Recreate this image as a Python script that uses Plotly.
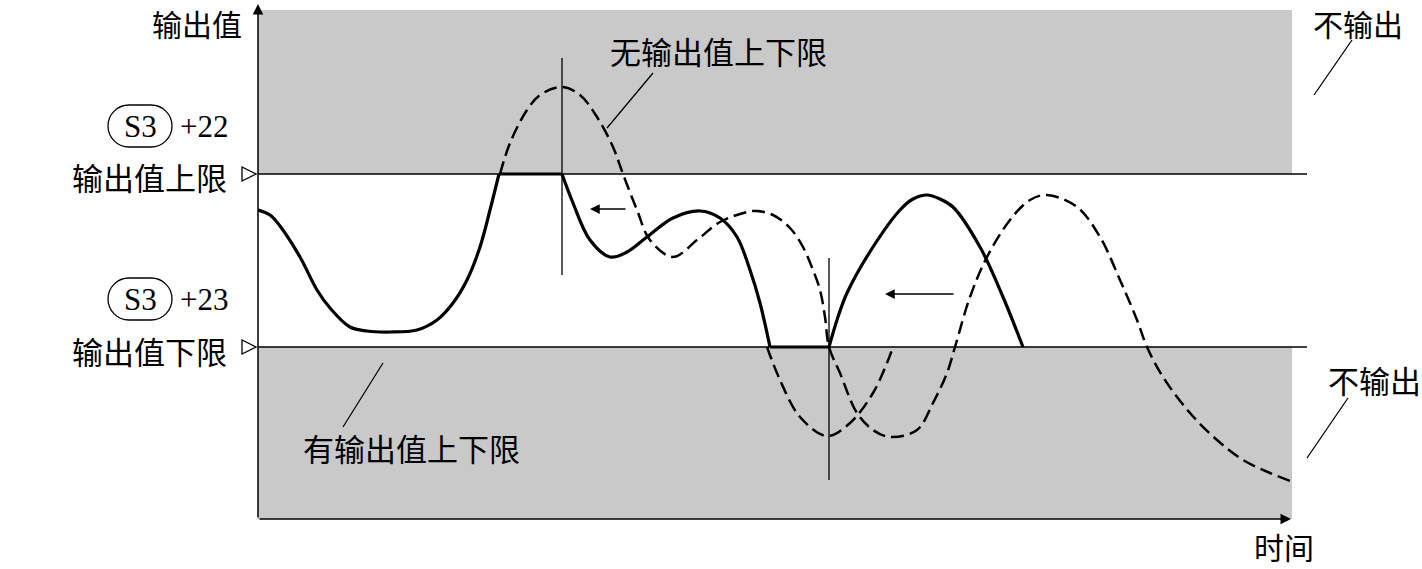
import plotly.graph_objects as go

# ---------------- data (time units, value units: lower limit = 0, upper limit = 173) -------------
TIME_END = 1034
UPPER_LIMIT = 173
LOWER_LIMIT = 0
VALUE_TOP = 337
VALUE_BOTTOM = -172

# output with limits (solid)
solid_a_t = [0, 12, 22, 42, 59, 72, 92, 109, 132, 159, 179, 195, 209, 222, 232, 241]
solid_a_v = [137, 132, 121, 90, 57, 39, 20, 16, 15, 17, 27, 44, 67, 100, 137, 173]
hold_upper_t = [241, 304]
solid_b_t = [304, 315, 332, 352, 369, 389, 415, 442, 462, 479, 492, 502, 512]
solid_b_v = [173, 144, 107, 90, 95, 110, 129, 136, 129, 110, 77, 44, 0]
hold_lower_t = [512, 571]
solid_c_t = [571, 579, 589, 615, 642, 655, 669, 682, 695, 722, 745, 765]
solid_c_v = [0, 27, 54, 100, 137, 148, 152, 148, 140, 100, 50, 0]

# output without limits (dashed)
free_t = [242, 252, 269, 282, 304, 322, 339, 355, 365, 379, 392, 415, 439, 462, 489, 499,
          515, 532, 545, 555, 562, 567, 571, 582, 599, 615, 632, 659, 675, 689, 697, 712,
          729, 752, 772, 789, 819, 842, 862, 879, 889, 905, 932, 959, 985, 1012, 1035]
free_v = [173, 204, 237, 252, 260, 252, 230, 200, 173, 137, 107, 90, 107, 125, 135, 136,
          132, 119, 100, 77, 57, 30, 0, -26, -66, -83, -90, -83, -56, -26, 0, 50,
          90, 127, 147, 152, 140, 110, 67, 27, 0, -30, -66, -93, -113, -126, -135]
free2_t = [509, 522, 542, 569, 592, 615, 629, 635]
free2_v = [0, -33, -70, -89, -76, -46, -16, 0]

# markers: vertical reference lines and shift arrows
vline_t = [304, 571]
vline_v0 = [72, -133]
vline_v1 = [289, 89]
shift_arrow_tail_t = [369, 697]
shift_arrow_head_t = [332, 627]
shift_arrow_v = [138, 53]

# ---------------- layout helpers (reference pixel -> paper) ----------------
W, H = 1422, 569
PL, PR, PT, PB = 258, 1307, 10, 519


def px(x):
    return (x - PL) / (PR - PL)


def py(y):
    return (PB - y) / (PB - PT)


CJK = "Noto Sans CJK SC"
SERIF = "Liberation Serif"

fig = go.Figure()

dash_line = dict(color="black", width=2.5, dash="13px,6px")
solid_line = dict(color="black", width=3.2)
SM = 1.0

fig.add_trace(go.Scatter(x=free_t, y=free_v, mode="lines", line=dict(shape="spline", smoothing=SM, **dash_line),
                         hoverinfo="skip"))
fig.add_trace(go.Scatter(x=free2_t, y=free2_v, mode="lines", line=dict(shape="spline", smoothing=SM, **dash_line),
                         hoverinfo="skip"))
fig.add_trace(go.Scatter(x=solid_a_t, y=solid_a_v, mode="lines", line=dict(shape="spline", smoothing=SM, **solid_line),
                         hoverinfo="skip"))
fig.add_trace(go.Scatter(x=hold_upper_t, y=[UPPER_LIMIT] * 2, mode="lines", line=solid_line, hoverinfo="skip"))
fig.add_trace(go.Scatter(x=solid_b_t, y=solid_b_v, mode="lines", line=dict(shape="spline", smoothing=SM, **solid_line),
                         hoverinfo="skip"))
fig.add_trace(go.Scatter(x=hold_lower_t, y=[LOWER_LIMIT] * 2, mode="lines", line=solid_line, hoverinfo="skip"))
fig.add_trace(go.Scatter(x=solid_c_t, y=solid_c_v, mode="lines", line=dict(shape="spline", smoothing=SM, **solid_line),
                         hoverinfo="skip"))

shapes = []
GRAY = "#c9c9c9"
shapes.append(dict(type="rect", xref="x", yref="y", x0=0, x1=TIME_END, y0=UPPER_LIMIT, y1=VALUE_TOP,
                   fillcolor=GRAY, line=dict(width=0), layer="below"))
shapes.append(dict(type="rect", xref="x", yref="y", x0=0, x1=TIME_END, y0=VALUE_BOTTOM, y1=LOWER_LIMIT,
                   fillcolor=GRAY, line=dict(width=0), layer="below"))
for lim in (UPPER_LIMIT, LOWER_LIMIT):
    shapes.append(dict(type="line", xref="x", yref="y", x0=0, x1=PR - PL, y0=lim, y1=lim,
                       line=dict(color="black", width=1.5)))
for t, v0, v1 in zip(vline_t, vline_v0, vline_v1):
    shapes.append(dict(type="line", xref="x", yref="y", x0=t, x1=t, y0=v0, y1=v1,
                       line=dict(color="black", width=1.3)))

# leader lines (pixel positions)
leaders = [((653, 73), (607, 128)), ((383, 363), (343, 427)),
           ((1352, 40), (1314, 95)), ((1348, 398), (1307, 458))]
for (xa, ya), (xb, yb) in leaders:
    shapes.append(dict(type="line", xref="paper", yref="paper", x0=px(xa), y0=py(ya), x1=px(xb), y1=py(yb),
                       line=dict(color="black", width=1.3)))

# open triangles ▷ at the limit levels
for yc in (174, 347):
    path = f"M{px(242)},{py(yc - 7)} L{px(242)},{py(yc + 7)} L{px(256)},{py(yc)} Z"
    shapes.append(dict(type="path", xref="paper", yref="paper", path=path,
                       line=dict(color="black", width=1.3), fillcolor="white"))


# pill outlines around "S3"
def pill(cx, cy, w, h):
    r = h / 2
    k = 0.5523 * r
    xl, xr = cx - w / 2 + r, cx + w / 2 - r
    yt, yb = cy - r, cy + r
    pts = [
        f"M{px(xl)},{py(yt)}",
        f"L{px(xr)},{py(yt)}",
        f"C{px(xr + k)},{py(yt)} {px(xr + r)},{py(cy - k)} {px(xr + r)},{py(cy)}",
        f"C{px(xr + r)},{py(cy + k)} {px(xr + k)},{py(yb)} {px(xr)},{py(yb)}",
        f"L{px(xl)},{py(yb)}",
        f"C{px(xl - k)},{py(yb)} {px(xl - r)},{py(cy + k)} {px(xl - r)},{py(cy)}",
        f"C{px(xl - r)},{py(cy - k)} {px(xl - k)},{py(yt)} {px(xl)},{py(yt)} Z",
    ]
    return dict(type="path", xref="paper", yref="paper", path=" ".join(pts),
                line=dict(color="black", width=1.3))


shapes.append(pill(140, 126, 64, 42))
shapes.append(pill(140, 299, 64, 42))

annotations = []


def text(s, x, y, xanchor, size=31, family=CJK):
    annotations.append(dict(text=s, x=px(x), y=py(y), xref="paper", yref="paper", showarrow=False,
                            xanchor=xanchor, yanchor="middle", font=dict(family=family, size=size, color="black")))


text("输出值", 244, 23, "right", 30)
text("输出值上限", 229, 176, "right")
text("输出值下限", 229, 350, "right")
text("S3", 140, 127, "center", 31, SERIF)
text("S3", 140, 300, "center", 31, SERIF)
text("+22", 178, 127, "left", 31, SERIF)
text("+23", 178, 300, "left", 31, SERIF)
text("无输出值上下限", 608, 50, "left")
text("有输出值上下限", 301, 447, "left")
text("不输出", 1311, 23, "left", 30)
text("不输出", 1326, 379, "left")
text("时间", 1252, 546, "left", 30)

# axes arrows
annotations.append(dict(x=px(258), y=py(4), xref="paper", yref="paper", ax=0, ay=515, axref="pixel", ayref="pixel",
                        showarrow=True, arrowhead=2, arrowsize=1.4, arrowwidth=1.5, arrowcolor="black", text=""))
annotations.append(dict(x=px(1291), y=py(519), xref="paper", yref="paper", ax=-1033, ay=0, axref="pixel", ayref="pixel",
                        showarrow=True, arrowhead=2, arrowsize=1.4, arrowwidth=1.5, arrowcolor="black", text=""))

# shift arrows (data coordinates)
for tt, th, vv in zip(shift_arrow_tail_t, shift_arrow_head_t, shift_arrow_v):
    annotations.append(dict(x=th, y=vv, xref="x", yref="y", ax=tt, ay=vv, axref="x", ayref="y",
                            showarrow=True, arrowhead=2, arrowsize=1.5, arrowwidth=1.3, arrowcolor="black", text=""))

fig.update_layout(
    width=W, height=H, autosize=False,
    margin=dict(l=PL, r=W - PR, t=PT, b=H - PB, pad=0),
    paper_bgcolor="white", plot_bgcolor="white",
    showlegend=False,
    xaxis=dict(range=[0, PR - PL], visible=False, fixedrange=True),
    yaxis=dict(range=[VALUE_BOTTOM, VALUE_TOP], visible=False, fixedrange=True),
    shapes=shapes, annotations=annotations,
)

fig.write_html("out.html", config={"displayModeBar": False},
               post_script="document.body.style.margin='0';document.body.style.overflow='hidden';")
